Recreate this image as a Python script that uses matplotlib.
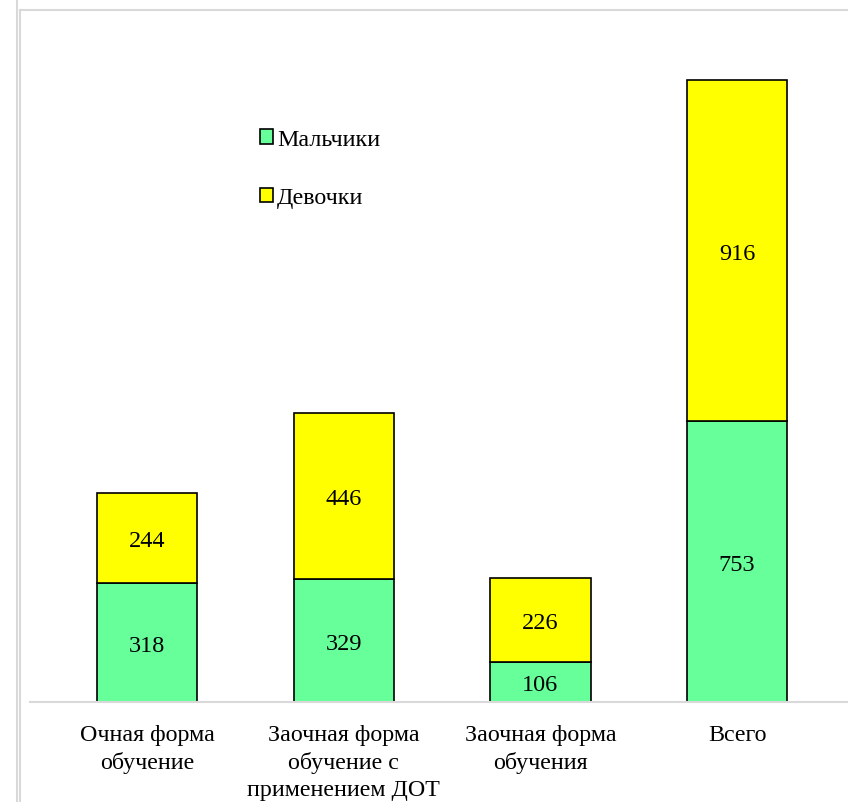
import matplotlib
matplotlib.use("Agg")
import matplotlib.pyplot as plt
from matplotlib.lines import Line2D
import numpy as np

categories = ["Очная форма\nобучение", "Заочная форма\nобучение с\nприменением ДОТ",
              "Заочная форма\nобучения", "Всего"]
boys = [318, 329, 106, 753]
girls = [244, 446, 226, 916]
series_names = ["Мальчики", "Девочки"]
colors = ["#66FF99", "#FFFF00"]

plt.rcParams['font.family'] = ['Liberation Serif', 'DejaVu Serif']

W, H = 848, 803
fig = plt.figure(figsize=(W/100, H/100), dpi=100)

# outer frame lines
fig.add_artist(Line2D([17/W, 17/W], [0, 1], color="#d9d9d9", lw=1.5))
fig.add_artist(Line2D([20/W, 20/W], [0, 1 - 11/H], color="#d9d9d9", lw=1.5))
fig.add_artist(Line2D([20/W, 1], [1 - 11/H, 1 - 11/H], color="#d9d9d9", lw=1.5))

ax_left, ax_right = 30, 848
ax_bottom, ax_top = 703, 30
ax = fig.add_axes([ax_left/W, 1 - ax_bottom/H, (ax_right-ax_left)/W, (ax_bottom-ax_top)/H])

x = np.arange(len(categories))
b1 = ax.bar(x, boys, width=0.51, color=colors[0], edgecolor="black", linewidth=1.2, label=series_names[0])
b2 = ax.bar(x, girls, width=0.51, bottom=boys, color=colors[1], edgecolor="black", linewidth=1.2, label=series_names[1])

for i in range(len(x)):
    ax.text(x[i], boys[i]/2, str(boys[i]), ha="center", va="center_baseline", fontsize=17.5)
    ax.text(x[i], boys[i] + girls[i]/2, str(girls[i]), ha="center", va="center_baseline", fontsize=17.5)

spacing = 196.7
c0 = 147
ax.set_xlim((ax_left - c0)/spacing, (ax_right - c0)/spacing)
ax.set_ylim(0, (ax_bottom - ax_top)/0.3727)

for s in ["top", "right", "left"]:
    ax.spines[s].set_visible(False)
ax.spines["bottom"].set_color("#d9d9d9")
ax.spines["bottom"].set_linewidth(1.5)
ax.set_yticks([])
ax.set_xticks(x)
ax.set_xticklabels(categories, fontsize=17.3, linespacing=1.35)
ax.tick_params(axis="x", length=0, pad=16)

leg = ax.legend(loc="upper left", bbox_to_anchor=(248/W, 1 - 118/H), bbox_transform=fig.transFigure,
                frameon=False, fontsize=17.3, labelspacing=1.55, handlelength=0.55, handleheight=0.55,
                handletextpad=0.15, borderpad=0)

fig.savefig("out.png", dpi=100)
